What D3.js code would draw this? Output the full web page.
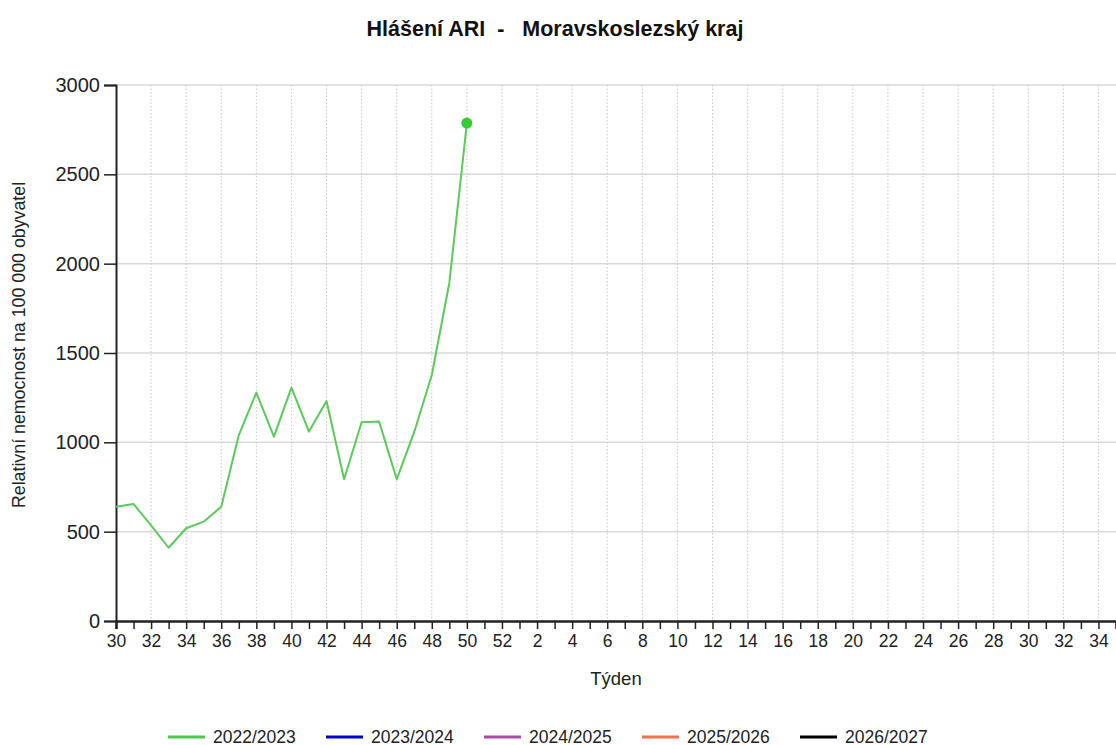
<!DOCTYPE html>
<html><head><meta charset="utf-8">
<script src="https://cdn.jsdelivr.net/npm/d3@7"></script>
<style>
html,body{margin:0;padding:0;background:#fff;overflow:hidden;}
svg{display:block;font-family:"Liberation Sans",Arial,sans-serif;}
</style></head>
<body>
<svg id="c" width="1116" height="745"></svg>
<script>
// ---- data ----
const weekLabels = [30,31,32,33,34,35,36,37,38,39,40,41,42,43,44,45,46,47,48,49,50,51,52,
  1,2,3,4,5,6,7,8,9,10,11,12,13,14,15,16,17,18,19,20,21,22,23,24,25,26,27,28,29,30,31,32,33,34,35];
const seriesNames = ["2022/2023","2023/2024","2024/2025","2025/2026","2026/2027"];
const seriesColors = ["#4cc64c","#0000cc","#a64ca6","#f07050","#000000"];
const values2022 = [640,655,535,410,519,556,640,1041,1278,1032,1306,1060,1231,793,1112,1116,793,1058,1377,1892,2787];
const yTicks = [0,500,1000,1500,2000,2500,3000];
const title = "Hlášení ARI  -   Moravskoslezský kraj";
const xTitle = "Týden";
const yTitle = "Relativní nemocnost na 100 000 obyvatel";

const svg = d3.select("#c");
const x = d3.scaleLinear().domain([0, weekLabels.length-1]).range([116, 1116]);
const y = d3.scaleLinear().domain([0, 3000]).range([621, 85]);

// title
svg.append("text").attr("x", 555).attr("y", 36).attr("text-anchor","middle")
  .attr("font-size", 21.5).attr("font-weight","bold").attr("fill","#111")
  .style("white-space","pre").text(title);

// horizontal grid
svg.append("g").selectAll("line").data(yTicks.filter(d=>d>0)).join("line")
  .attr("x1", 116).attr("x2", 1116).attr("y1", d=>y(d)).attr("y2", d=>y(d))
  .attr("stroke","#d9d9d9").attr("stroke-width",1.5);

// vertical dotted grid
const idx = d3.range(weekLabels.length);
svg.append("g").selectAll("line").data(idx.filter(i=>i%2===0 && i>0)).join("line")
  .attr("x1", d=>x(d)).attr("x2", d=>x(d)).attr("y1", y(3000)).attr("y2", y(0))
  .attr("stroke","#c8c8c8").attr("stroke-width",1).attr("stroke-dasharray","1.5,2");

// y axis
const yAxis = d3.axisLeft(y).tickValues(yTicks).tickSize(12).tickPadding(4).tickFormat(d3.format("d"));
const gy = svg.append("g").attr("transform","translate(116,0)").call(yAxis);
gy.select(".domain").attr("stroke","#222").attr("stroke-width",2);
gy.selectAll(".tick line").attr("stroke","#222").attr("stroke-width",1.5);
gy.selectAll(".tick text").attr("font-size",20).attr("fill","#222").attr("font-family","Liberation Sans, Arial, sans-serif");

// x axis
const xAxis = d3.axisBottom(x).tickValues(idx).tickSize(8).tickPadding(6)
  .tickFormat(i => i%2===0 ? weekLabels[i] : "");
const gx = svg.append("g").attr("transform","translate(0,621)").call(xAxis);
gx.select(".domain").attr("stroke","#222").attr("stroke-width",2.5);
gx.selectAll(".tick line").attr("stroke","#222").attr("stroke-width",1.5);
gx.selectAll(".tick text").attr("font-size",17.5).attr("fill","#222").attr("font-family","Liberation Sans, Arial, sans-serif");

// axis titles
svg.append("text").attr("x", 616).attr("y", 685).attr("text-anchor","middle")
  .attr("font-size",18.5).attr("fill","#222").text(xTitle);
svg.append("text").attr("transform","translate(25,345) rotate(-90)").attr("text-anchor","middle")
  .attr("font-size",17.8).attr("fill","#222").text(yTitle);

// series line
const line = d3.line().x((d,i)=>x(i)).y(d=>y(d));
svg.append("path").datum(values2022).attr("d", line)
  .attr("fill","none").attr("stroke","#5cc95c").attr("stroke-width",2).attr("stroke-linejoin","round");
const last = values2022.length-1;
svg.append("circle").attr("cx", x(last)).attr("cy", y(values2022[last])).attr("r",5.5).attr("fill","#33cc33");

// legend
const lg = svg.append("g").selectAll("g").data(seriesNames).join("g")
  .attr("transform",(d,i)=>`translate(${168+i*158},737)`);
lg.append("line").attr("x1",0).attr("x2",37).attr("y1",0).attr("y2",0)
  .attr("stroke",(d,i)=>seriesColors[i]).attr("stroke-width",3);
lg.append("text").attr("x",45).attr("y",5.5).attr("font-size",17.5).attr("fill","#222").text(d=>d);
</script>
</body></html>
